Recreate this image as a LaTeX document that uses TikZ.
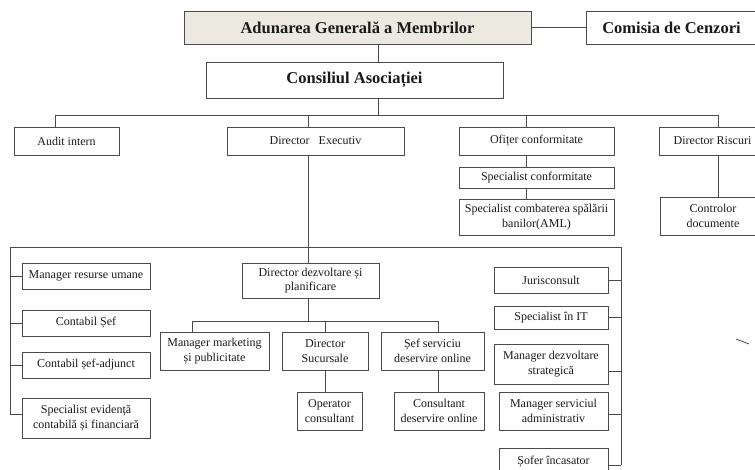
\documentclass[tikz,border=0pt]{standalone}
\usepackage{fontspec}
\setmainfont{Liberation Serif}
\definecolor{linegray}{HTML}{4A4A4A}
\definecolor{beige}{HTML}{ECE9E0}
\definecolor{txt}{HTML}{1A1A1A}
\tikzset{
  box/.style={draw=linegray, line width=0.8pt, inner sep=0pt, align=center, text=txt,
    font=\fontsize{12}{14.5}\selectfont},
  bigbox/.style={box, font=\fontsize{16.5}{19}\selectfont\bfseries},
  conn/.style={draw=linegray, line width=0.8pt},
  wh/.style 2 args={minimum width=#1pt, minimum height=#2pt},
}
\begin{document}
\begin{tikzpicture}[x=1pt,y=-1pt]
\useasboundingbox (0,0) rectangle (755,470);
% top level
\node[bigbox, fill=beige, wh={347}{33}] (adu) at (357.5,27.5) {Adunarea Generală a Membrilor};
\node[bigbox, wh={171}{33}] (com) at (671.5,27.5) {Comisia de Cenzori};
\node[bigbox, wh={297}{36}] (cons) at (354.5,80) {Consiliul Asociației};
% second level
\node[box, wh={105}{28}] (audit) at (66.5,141) {Audit intern};
\node[box, wh={177}{28}] (dexe) at (315.5,141) {Director\ \ \ Executiv};
\node[box, wh={155}{28}] (ofc) at (536.5,141) {Ofițer conformitate};
\node[box, wh={107}{28}] (dris) at (712.5,141) {Director Riscuri};
% compliance & risk
\node[box, wh={155}{21}] (spc) at (536.5,177.5) {Specialist conformitate};
\node[box, wh={155}{36}] (spb) at (536.5,217) {Specialist combaterea spălării\\banilor(AML)};
\node[box, wh={106}{38}] (ctrl) at (713,216) {Controlor\\documente};
% left column
\node[box, wh={128}{26}] (mru) at (86,276) {Manager resurse umane};
\node[box, wh={128}{26}] (csef) at (86,323) {Contabil Șef};
\node[box, wh={128}{26}] (csa) at (86,365) {Contabil șef-adjunct};
\node[box, wh={128}{40}] (sev) at (86,418) {Specialist evidență\\contabilă și financiară};
% middle
\node[box, wh={137}{35}] (ddp) at (310.5,280.5) {Director dezvoltare și\\planificare};
\node[box, wh={109}{38}] (mmk) at (214.5,351) {Manager marketing\\și publicitate};
\node[box, wh={86}{38}] (dsuc) at (325,351) {Director\\Sucursale};
\node[box, wh={103}{38}] (sef) at (432.5,351) {Șef serviciu\\deservire online};
\node[box, wh={65}{38}] (opc) at (329.5,411) {Operator\\consultant};
\node[box, wh={90}{38}] (cdo) at (439,411) {Consultant\\deservire online};
% right column
\node[box, wh={114}{26}] (jur) at (551,280) {Jurisconsult};
\node[box, wh={114}{23}] (sit) at (551,317.5) {Specialist în IT};
\node[box, wh={114}{40}] (mds) at (551,364) {Manager dezvoltare\\strategică};
\node[box, wh={109}{38}] (msa) at (553.5,411) {Manager serviciul\\administrativ};
\node[box, wh={109}{27}] (sof) at (553.5,461.5) {Șofer încasator};
% coordinates
\coordinate (cx) at (378,115);
\coordinate (busL) at (55,115);
\coordinate (busR) at (718,115);
\coordinate (bE) at (308,115);
\coordinate (bO) at (526,115);
\coordinate (fTL) at (10,247);
\coordinate (fTR) at (621,247);
\coordinate (fBL) at (10,414);
\coordinate (fBR) at (621,465);
\coordinate (fMS) at (621,371);
\coordinate (mb) at (308,321);
\coordinate (mbL) at (192,321);
\coordinate (mbR) at (438,321);
\coordinate (mbM) at (325,321);
\coordinate (tickA) at (736,339);
\coordinate (tickB) at (749,344);
% connectors
\draw[conn] (adu.east) -- (com.west |- adu.east);
\draw[conn] (adu.south -| cx) -- (cons.north -| cx);
\draw[conn] (cons.south -| cx) -- (cx);
\draw[conn] (busL) -- (busR);
\draw[conn] (busL) -- (busL |- audit.north);
\draw[conn] (bE) -- (bE |- dexe.north);
\draw[conn] (bO) -- (bO |- ofc.north);
\draw[conn] (busR) -- (busR |- dris.north);
\draw[conn] (dexe.south -| bE) -- (bE |- ddp.north);
\draw[conn] (fBL) -- (fTL) -- (fTR) -- (fBR);
\draw[conn] (fTL |- mru.west) -- (mru.west);
\draw[conn] (fTL |- csef.west) -- (csef.west);
\draw[conn] (fTL |- csa.west) -- (csa.west);
\draw[conn] (fBL) -- (sev.west |- fBL);
\draw[conn] (jur.east) -- (fTR |- jur.east);
\draw[conn] (sit.east) -- (fTR |- sit.east);
\draw[conn] (mds.east |- fMS) -- (fMS);
\draw[conn] (msa.east |- fBL) -- (fTR |- fBL);
\draw[conn] (sof.east |- fBR) -- (fBR);
\draw[conn] (ddp.south -| mb) -- (mb);
\draw[conn] (mbL) -- (mbR);
\draw[conn] (mbL) -- (mbL |- mmk.north);
\draw[conn] (mbM) -- (mbM |- dsuc.north);
\draw[conn] (mbR) -- (mbR |- sef.north);
\draw[conn] (dsuc.south) -- (dsuc.south |- opc.north);
\draw[conn] (sef.south -| mbR) -- (mbR |- cdo.north);
\draw[conn] (ofc.south -| bO) -- (bO |- spc.north);
\draw[conn] (spc.south -| bO) -- (bO |- spb.north);
\draw[conn] (dris.south -| busR) -- (busR |- ctrl.north);
% stray tick
\draw[conn] (tickA) -- (tickB);
\end{tikzpicture}
\end{document}
